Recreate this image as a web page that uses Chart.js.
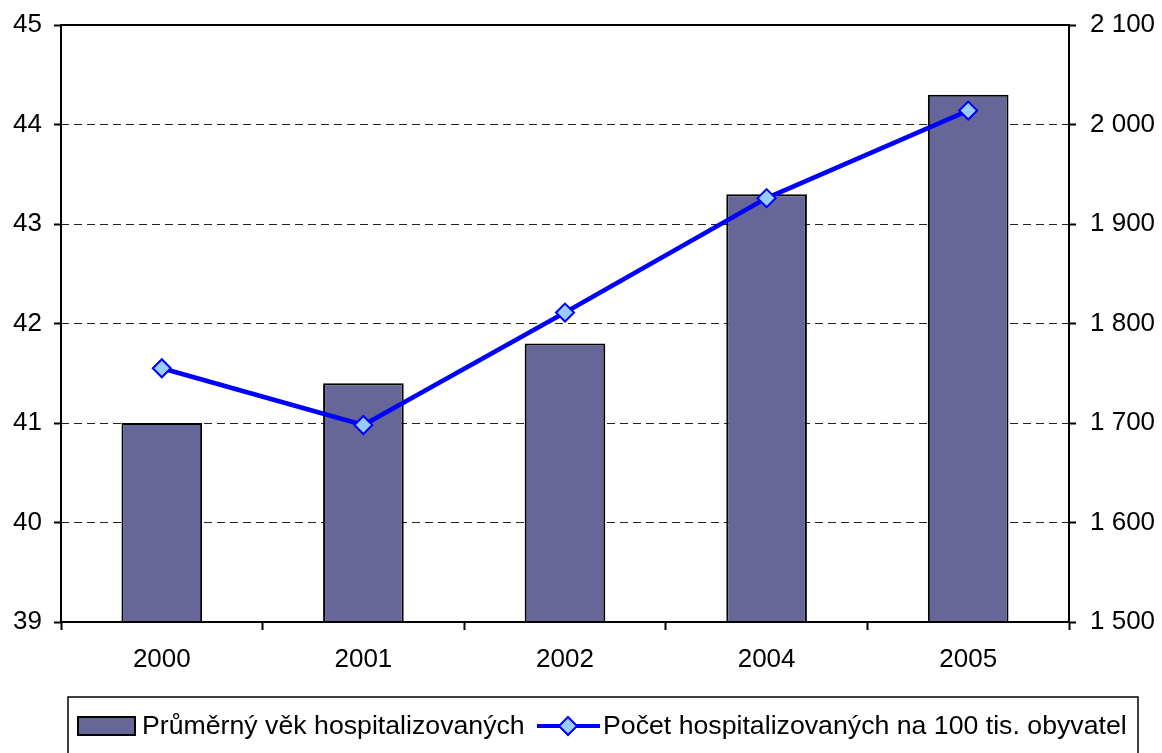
<!DOCTYPE html>
<html>
<head>
<meta charset="utf-8">
<script src="https://cdn.jsdelivr.net/npm/chart.js@4/dist/chart.umd.min.js"></script>
<style>
body{margin:0;background:#fff;}
canvas{display:block;}
</style>
</head>
<body>
<canvas id="myChart" width="1162" height="753"></canvas>
<script>
// data
const years = ['2000', '2001', '2002', '2004', '2005'];
const avgAge = [41.0, 41.4, 41.8, 43.3, 44.3];
const perHundredK = [1755, 1698, 1811, 1926, 2014];
const barLabel = 'Průměrný věk hospitalizovaných';
const lineLabel = 'Počet hospitalizovaných na 100 tis. obyvatel';

const FONT = {family: '"Liberation Sans", Arial, sans-serif', size: 26};
// smaller line height on the value axes so the top label does not push the plot down
const YFONT = {family: FONT.family, size: 26, lineHeight: 0.8};

// space as thousands separator, like "2 100"
const spaced = (v) => v.toString().replace(/\B(?=(\d{3})+(?!\d))/g, ' ');

const framePlugin = {
id: 'frame',
afterDraw(chart) {
const ctx = chart.ctx;
const a = chart.chartArea;
ctx.save();
ctx.strokeStyle = '#000';
ctx.lineWidth = 2;
ctx.strokeRect(a.left, a.top, a.right - a.left, a.bottom - a.top);

// legend box (runs off the bottom like the original)
const bx = 68, by = 697;
ctx.lineWidth = 1.5;
ctx.strokeRect(bx, by, 1138 - bx, 80);
const cy = 726;
// bar swatch
ctx.fillStyle = '#666699';
ctx.fillRect(78, cy - 9, 57, 18);
ctx.lineWidth = 2;
ctx.strokeRect(78, cy - 9, 57, 18);
ctx.font = '26.7px ' + FONT.family;
ctx.fillStyle = '#000';
ctx.textBaseline = 'middle';
ctx.textAlign = 'left';
ctx.fillText(chart.data.datasets[1].label, 142, cy + 1);
// line swatch
ctx.strokeStyle = '#0000ff';
ctx.lineWidth = 4;
ctx.beginPath();
ctx.moveTo(537, cy);
ctx.lineTo(600, cy);
ctx.stroke();
ctx.beginPath();
ctx.moveTo(568, cy - 9);
ctx.lineTo(577, cy);
ctx.lineTo(568, cy + 9);
ctx.lineTo(559, cy);
ctx.closePath();
ctx.fillStyle = '#99ccff';
ctx.fill();
ctx.lineWidth = 2;
ctx.stroke();
ctx.fillStyle = '#000';
ctx.fillText(chart.data.datasets[0].label, 603, cy + 1);
ctx.restore();
}
};

const ctx = document.getElementById('myChart').getContext('2d');

const config = {
type: 'bar',
data: {
labels: years,
datasets: [
{
type: 'line',
label: lineLabel,
data: perHundredK,
yAxisID: 'y1',
borderColor: '#0000ff',
borderWidth: 4.5,
backgroundColor: '#99ccff',
pointStyle: 'rectRot',
pointRadius: 9,
pointBorderWidth: 2,
pointBorderColor: '#0000ff',
pointBackgroundColor: '#99ccff',
tension: 0,
fill: false,
order: 0
},
{
type: 'bar',
label: barLabel,
data: avgAge,
yAxisID: 'y',
backgroundColor: '#666699',
borderColor: '#000',
borderWidth: 2,
barPercentage: 0.4,
categoryPercentage: 1,
order: 1
}
]
},
options: {
responsive: false,
animation: false,
layout: {padding: {top: 25, left: 0, right: 0, bottom: 71}},
plugins: {
legend: {display: false},
tooltip: {enabled: false}
},
scales: {
x: {
offset: true,
grid: {offset: true, drawOnChartArea: false, drawTicks: true, tickLength: 8, tickColor: '#000', tickWidth: 2},
border: {display: false},
ticks: {font: FONT, color: '#000', padding: 14},
afterFit: (s) => { s.height = 60; }
},
y: {
position: 'left',
min: 39,
max: 45,
ticks: {stepSize: 1, font: YFONT, color: '#000', padding: 12},
grid: {color: '#222', lineWidth: 1, tickLength: 7, tickColor: '#000', tickWidth: 2},
border: {display: false, dash: [8, 5]},
afterFit: (s) => { s.width = 61; }
},
y1: {
position: 'right',
min: 1500,
max: 2100,
ticks: {stepSize: 100, font: YFONT, color: '#000', padding: 14, callback: (v) => spaced(v)},
grid: {drawOnChartArea: false, tickLength: 7, tickColor: '#000', tickWidth: 2},
border: {display: false},
afterFit: (s) => { s.width = 93; }
}
}
},
plugins: [framePlugin]
};

var myChart = new Chart(ctx, config);
</script>
</body>
</html>
